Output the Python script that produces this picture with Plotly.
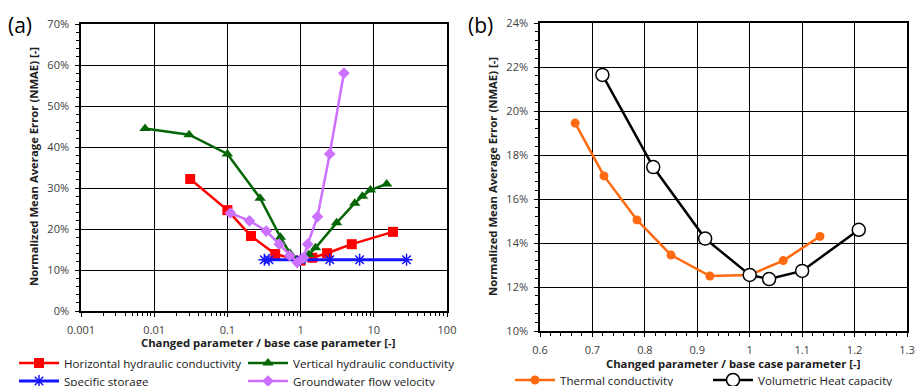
import plotly.graph_objects as go

# ---------------- data (panel a) ----------------
horiz_x = [0.031, 0.1, 0.21, 0.45, 1.0, 1.45, 2.3, 5.0, 18.3]
horiz_y = [32.2, 24.6, 18.3, 13.9, 12.3, 13.0, 14.1, 16.3, 19.3]

vert_x = [0.0075, 0.03, 0.1, 0.28, 0.53, 0.72, 1.0, 1.3, 1.6, 3.1, 5.5, 7.0, 9.0, 15.0]
vert_y = [44.5, 43.0, 38.3, 27.5, 18.0, 14.0, 12.3, 13.8, 15.4, 21.5, 26.3, 28.0, 29.5, 31.0]

stor_x = [0.32, 0.37, 1.0, 2.5, 6.4, 28.0]
stor_y = [12.5, 12.5, 12.5, 12.5, 12.5, 12.5]

gw_x = [0.11, 0.2, 0.34, 0.51, 0.71, 0.9, 1.1, 1.25, 1.7, 2.5, 3.9]
gw_y = [23.9, 22.0, 19.5, 16.3, 13.5, 11.8, 13.0, 16.3, 23.0, 38.3, 58.0]

# ---------------- data (panel b) ----------------
therm_x = [0.667, 0.722, 0.785, 0.85, 0.924, 1.0, 1.064, 1.134]
therm_y = [19.45, 17.05, 15.05, 13.45, 12.5, 12.55, 13.2, 14.3]

heat_x = [0.719, 0.816, 0.915, 1.0, 1.037, 1.10, 1.208]
heat_y = [21.64, 17.45, 14.2, 12.55, 12.36, 12.73, 14.6]

log_tickvals = [0.001, 0.01, 0.1, 1, 10, 100]
log_ticktext = ["0.001", "0.01", "0.1", "1", "10", "100"]

W, H = 917, 386
FONT = "Open Sans"

def px_x(p):
    return p / W

def px_y(p):
    return 1 - p / H

fig = go.Figure()

LW = 2.5
fig.add_trace(go.Scatter(x=horiz_x, y=horiz_y, name="Horizontal hydraulic conductivity",
                         mode="lines+markers", line=dict(color="#FF0000", width=LW),
                         marker=dict(symbol="square", size=10, color="#FF0000"),
                         xaxis="x", yaxis="y", legend="legend"))
fig.add_trace(go.Scatter(x=vert_x, y=vert_y, name="Vertical hydraulic conductivity",
                         mode="lines+markers", line=dict(color="#056605", width=LW),
                         marker=dict(symbol="triangle-up", size=10, color="#056605"),
                         xaxis="x", yaxis="y", legend="legend"))
fig.add_trace(go.Scatter(x=stor_x, y=stor_y, name="Specific storage",
                         mode="lines+markers", line=dict(color="#1414FF", width=LW + 0.5),
                         marker=dict(symbol="asterisk-open", size=10,
                                     line=dict(color="#1414FF", width=1.5)),
                         xaxis="x", yaxis="y", legend="legend2"))
fig.add_trace(go.Scatter(x=gw_x, y=gw_y, name="Groundwater flow velocity",
                         mode="lines+markers", line=dict(color="#CC70FF", width=LW),
                         marker=dict(symbol="diamond", size=9, color="#CC70FF"),
                         xaxis="x", yaxis="y", legend="legend2"))

fig.add_trace(go.Scatter(x=therm_x, y=therm_y, name="Thermal conductivity",
                         mode="lines+markers", line=dict(color="#FF6A10", width=LW),
                         marker=dict(symbol="circle", size=9, color="#FF6A10"),
                         xaxis="x2", yaxis="y2", legend="legend3"))
fig.add_trace(go.Scatter(x=heat_x, y=heat_y, name="Volumetric Heat capacity",
                         mode="lines+markers", line=dict(color="#000000", width=LW),
                         marker=dict(symbol="circle", size=13, color="#FFFFFF",
                                     line=dict(color="#000000", width=1.5)),
                         xaxis="x2", yaxis="y2", legend="legend3"))

tickfont = dict(family=FONT, size=11, color="#404040")
axis_common = dict(showline=True, linecolor="black", linewidth=1.5, mirror=True,
                   showgrid=True, gridcolor="black", gridwidth=1.4,
                   ticks="outside", ticklen=4, tickwidth=1.3, tickcolor="black",
                   tickfont=tickfont, zeroline=False, ticklabelstandoff=4)

legend_common = dict(orientation="h", font=dict(family=FONT, size=11.6, color="#202020"),
                     bgcolor="rgba(0,0,0,0)", itemwidth=40, entrywidthmode="pixels",
                     xanchor="left", yanchor="middle", tracegroupgap=0,
                     itemclick=False)

fig.update_layout(
    width=W, height=H, margin=dict(l=0, r=0, t=0, b=0, autoexpand=False),
    paper_bgcolor="white", plot_bgcolor="white",
    xaxis=dict(type="log", range=[-3, 2], domain=[px_x(81), px_x(447)],
               tickvals=log_tickvals, ticktext=log_ticktext,
               minor=dict(ticks="outside", ticklen=3, tickwidth=1.3, tickcolor="black",
                          dtick="D1"),
               anchor="y", **axis_common),
    yaxis=dict(range=[0, 70], domain=[px_y(311), px_y(24)], dtick=10, ticksuffix="%",
               minor=dict(ticks="outside", ticklen=3, tickwidth=1.3, tickcolor="black",
                          dtick=2),
               anchor="x", **axis_common),
    xaxis2=dict(range=[0.6, 1.3], domain=[px_x(540), px_x(907)], dtick=0.1, tick0=0.6,
                minor=dict(ticks="outside", ticklen=3, tickwidth=1.3, tickcolor="black",
                           dtick=0.02),
                anchor="y2", **axis_common),
    yaxis2=dict(range=[10, 24], domain=[px_y(331), px_y(23)], dtick=2, ticksuffix="%",
                minor=dict(ticks="outside", ticklen=3, tickwidth=1.3, tickcolor="black",
                           dtick=0.4),
                anchor="x2", **axis_common),
    legend=dict(x=px_x(14), y=px_y(363), entrywidth=174, **legend_common),
    legend2=dict(x=px_x(14), y=px_y(381), entrywidth=174, **legend_common),
    legend3=dict(x=px_x(510), y=px_y(380), entrywidth=143, **legend_common),
    showlegend=True,
)

title_font = dict(family=FONT, size=11.3, color="#202020")
ann = [
    dict(text="(a)", x=px_x(6), y=px_y(25), xanchor="left", yanchor="middle",
         font=dict(family=FONT, size=21, color="black")),
    dict(text="(b)", x=px_x(466), y=px_y(25), xanchor="left", yanchor="middle",
         font=dict(family=FONT, size=21, color="black")),
    dict(text="<b>Changed parameter / base case parameter [-]</b>", x=px_x(268), y=px_y(342),
         xanchor="center", yanchor="middle", font=title_font),
    dict(text="<b>Changed parameter / base case parameter [-]</b>", x=px_x(733), y=px_y(363),
         xanchor="center", yanchor="middle", font=title_font),
    dict(text="<b>Normalized Mean Average Error (NMAE) [-]</b>", x=px_x(33), y=px_y(167),
         xanchor="center", yanchor="middle", textangle=-90, font=title_font),
    dict(text="<b>Normalized Mean Average Error (NMAE) [-]</b>", x=px_x(492), y=px_y(177),
         xanchor="center", yanchor="middle", textangle=-90, font=title_font),
]
for a in ann:
    a.update(xref="paper", yref="paper", showarrow=False)
fig.update_layout(annotations=ann)

fig.write_html("out.html")
